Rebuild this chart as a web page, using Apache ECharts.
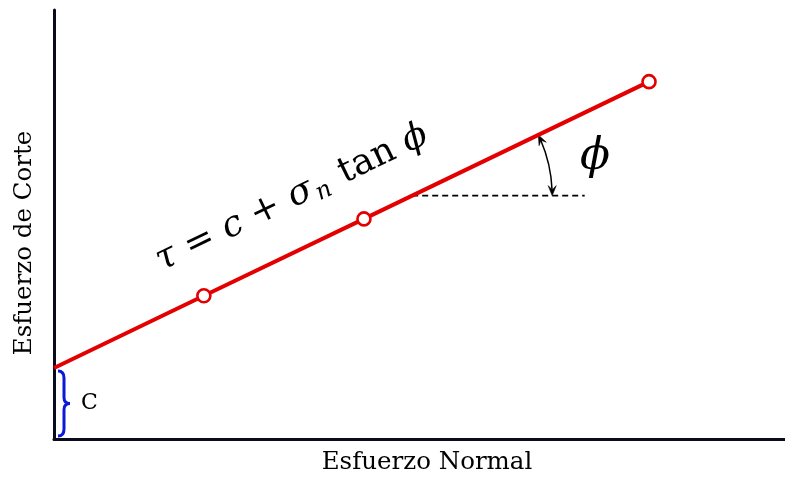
<!DOCTYPE html>
<html>
<head>
<meta charset="utf-8">
<script src="https://cdn.jsdelivr.net/npm/echarts@6/dist/echarts.min.js"></script>
<style>
  html, body { margin: 0; padding: 0; background: #fff; }
  #chart { width: 785px; height: 477px; }
</style>
</head>
<body>
<div id="chart"></div>
<script>
// Mohr–Coulomb failure envelope: tau = c + sigma_n * tan(phi)
const sigmaN = [0, 2.05, 4.24, 8.14];      // normal stress
const tau = [1.655, 3.34, 5.13, 8.33];     // shear stress
const showMarker = [false, true, true, true];
const cohesion = 1.655;                    // intercept c
const angleVertex = [4.9, 5.673];          // where the horizontal reference meets the envelope
const dashEndX = 7.26;
const xTitle = 'Esfuerzo Normal';
const yTitle = 'Esfuerzo de Corte';
const cLabel = 'C';

const RED = '#e30000';
const AXIS = '#0b0b1e';
const BLUE = '#0a1ad6';
const SERIF = '"DejaVu Serif", "Liberation Serif", serif';

const chart = echarts.init(document.getElementById('chart'), null, { renderer: 'canvas' });

const lineData = sigmaN.map((x, i) => ({
  value: [x, tau[i]],
  symbol: showMarker[i] ? 'circle' : 'none'
}));

// small stealth-style arrow head with its tip at `tip`, pointing along `dir`
function arrowHead(tip, dir, len, spread) {
  const bx = tip[0] - dir[0] * len, by = tip[1] - dir[1] * len;
  const px = -dir[1] * spread, py = dir[0] * spread;
  const ix = tip[0] - dir[0] * len * 0.6, iy = tip[1] - dir[1] * len * 0.6;
  return {
    type: 'polygon',
    shape: { points: [[bx + px, by + py], tip, [bx - px, by - py], [ix, iy]] },
    style: { fill: '#000', stroke: '#000', lineWidth: 0.6 }
  };
}

function renderAngle(params, api) {
  const v = api.coord(angleVertex);
  const end = api.coord([dashEndX, angleVertex[1]]);
  const a = api.coord([sigmaN[3], tau[3]]);
  const lineAng = Math.atan2(a[1] - v[1], a[0] - v[0]); // negative (upwards)
  const r = 140;
  const pad = 0.04;
  const tip1 = [v[0] + r * Math.cos(lineAng), v[1] + r * Math.sin(lineAng)];
  const tip2 = [v[0] + r, v[1]];
  return {
    type: 'group',
    children: [
      {
        type: 'line',
        shape: { x1: v[0], y1: v[1], x2: end[0], y2: end[1] },
        style: { stroke: '#000', lineWidth: 1.6, lineDash: [6, 4] }
      },
      {
        type: 'arc',
        shape: { cx: v[0], cy: v[1], r: r, startAngle: lineAng + pad, endAngle: -pad, clockwise: true },
        style: { stroke: '#000', lineWidth: 1.5, fill: null }
      },
      arrowHead(tip1, [Math.sin(lineAng), -Math.cos(lineAng)], 10, 4),
      arrowHead(tip2, [0, 1], 10, 4)
    ]
  };
}

function renderBrace(params, api) {
  const top = api.coord([0, cohesion]);
  const bot = api.coord([0, 0]);
  const x0 = top[0] + 4;
  const y1 = top[1] + 3, y2 = bot[1] - 3;
  const ym = (y1 + y2) / 2;
  const w = 6;
  const path =
    'M' + x0 + ' ' + y1 +
    ' Q' + (x0 + w) + ' ' + y1 + ' ' + (x0 + w) + ' ' + (y1 + 7) +
    ' L' + (x0 + w) + ' ' + (ym - 6) +
    ' Q' + (x0 + w) + ' ' + ym + ' ' + (x0 + 2 * w) + ' ' + ym +
    ' Q' + (x0 + w) + ' ' + ym + ' ' + (x0 + w) + ' ' + (ym + 6) +
    ' L' + (x0 + w) + ' ' + (y2 - 7) +
    ' Q' + (x0 + w) + ' ' + y2 + ' ' + x0 + ' ' + y2;
  return {
    type: 'group',
    children: [
      {
        type: 'path',
        shape: { pathData: path },
        style: { stroke: BLUE, lineWidth: 3, fill: null }
      },
      {
        type: 'text',
        x: x0 + 2 * w + 11, y: ym,
        style: { text: cLabel, font: '22px ' + SERIF, fill: '#000', verticalAlign: 'middle', align: 'left' }
      }
    ]
  };
}

const option = {
  animation: false,
  grid: { left: 54, right: 0, top: 10, bottom: 38 },
  xAxis: {
    type: 'value', min: 0, max: 10,
    axisLine: { show: true, onZero: false, lineStyle: { color: AXIS, width: 3 } },
    axisTick: { show: false }, axisLabel: { show: false }, splitLine: { show: false }
  },
  yAxis: {
    type: 'value', min: 0, max: 10,
    axisLine: { show: true, onZero: false, lineStyle: { color: AXIS, width: 3 } },
    axisTick: { show: false }, axisLabel: { show: false }, splitLine: { show: false }
  },
  series: [
    { type: 'custom', renderItem: renderAngle, data: [[0, 0]], silent: true, z: 1 },
    { type: 'custom', renderItem: renderBrace, data: [[0, 0]], silent: true, z: 1 },
    {
      type: 'line',
      data: lineData,
      symbolSize: 13,
      showAllSymbol: true,
      lineStyle: { color: RED, width: 4 },
      itemStyle: { color: '#fff', borderColor: RED, borderWidth: 2.6 },
      z: 3
    }
  ],
  graphic: [
    {
      type: 'text',
      x: 427, y: 463,
      style: { text: xTitle, font: '24.5px ' + SERIF, fill: '#000', align: 'center', verticalAlign: 'middle' }
    },
    {
      type: 'text',
      x: 25, y: 243, rotation: Math.PI / 2,
      style: { text: yTitle, font: '24.5px ' + SERIF, fill: '#000', align: 'center', verticalAlign: 'middle' }
    },
    {
      type: 'text',
      x: 595, y: 158,
      style: { text: 'ϕ', font: 'italic 44px ' + SERIF, fill: '#000', align: 'center', verticalAlign: 'middle' }
    },
    {
      type: 'text',
      x: 292, y: 198, rotation: 0.448,
      style: {
        text: '{i|τ} = {i|c} + {i|σ}{s|n} tan {i|ϕ}',
        font: '36px ' + SERIF, fill: '#000', align: 'center', verticalAlign: 'middle',
        rich: {
          i: { font: 'italic 36px ' + SERIF, fill: '#000' },
          s: { font: 'italic 24px ' + SERIF, fill: '#000', padding: [16, 3, 0, 2] }
        }
      }
    }
  ]
};

chart.setOption(option);
</script>
</body>
</html>
